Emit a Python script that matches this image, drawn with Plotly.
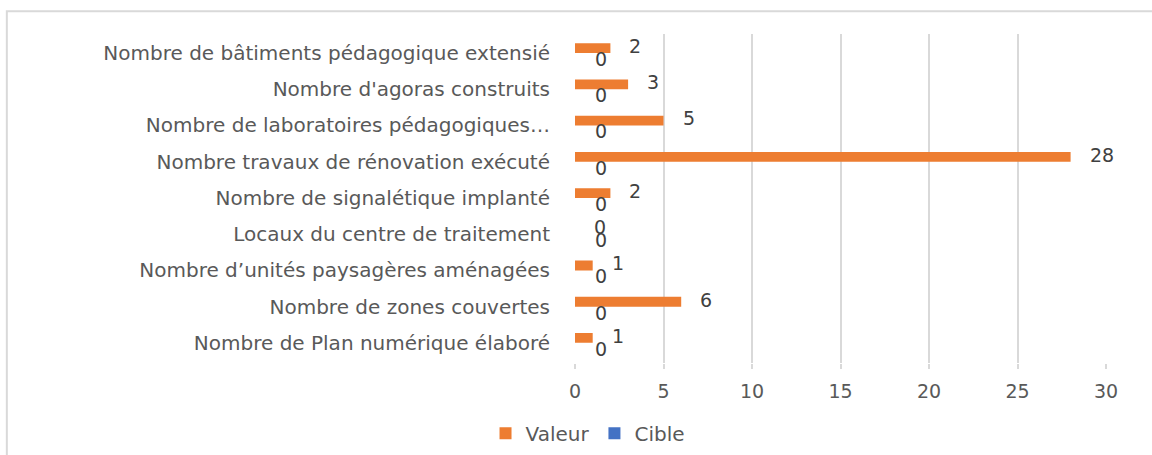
import plotly.graph_objects as go

categories = [
    "Nombre de bâtiments pédagogique extensié",
    "Nombre d'agoras construits",
    "Nombre de laboratoires pédagogiques…",
    "Nombre travaux de rénovation exécuté",
    "Nombre de signalétique implanté",
    "Locaux du centre de traitement",
    "Nombre d’unités paysagères aménagées",
    "Nombre de zones couvertes",
    "Nombre de Plan numérique élaboré",
]
valeur = [2, 3, 5, 28, 2, 0, 1, 6, 1]
cible = [0, 0, 0, 0, 0, 0, 0, 0, 0]
x_ticks = [0, 5, 10, 15, 20, 25, 30]

ORANGE = "#ED7D31"
BLUE = "#4472C4"
FONT = "DejaVu Sans"
GREY = "#595959"

fig = go.Figure()
fig.add_trace(go.Bar(name="Valeur", y=categories, x=valeur, orientation="h",
                     marker=dict(color=ORANGE, line=dict(width=0))))
fig.add_trace(go.Bar(name="Cible", y=categories, x=cible, orientation="h",
                     marker=dict(color=BLUE, line=dict(width=0))))

annotations = []
for c, v in zip(categories, valeur):
    annotations.append(dict(x=v, y=c, xref="x", yref="y", text=str(v), showarrow=False,
                            xanchor="left", yanchor="middle", xshift=17, yshift=7,
                            font=dict(family=FONT, size=19, color="#404040")))
for c, v in zip(categories, cible):
    annotations.append(dict(x=v, y=c, xref="x", yref="y", text=str(v), showarrow=False,
                            xanchor="left", yanchor="middle", xshift=18, yshift=-6,
                            font=dict(family=FONT, size=19, color="#404040")))

fig.update_layout(
    width=1152, height=455,
    margin=dict(l=575, r=46, t=34, b=88),
    paper_bgcolor="white", plot_bgcolor="white",
    barmode="group", bargap=0.46, bargroupgap=0,
    font=dict(family=FONT, size=19, color=GREY),
    showlegend=True,
    legend=dict(orientation="h", xref="container", yref="container",
                x=0.51, y=0.048, xanchor="center", yanchor="middle",
                font=dict(family=FONT, size=20, color=GREY),
                itemsizing="constant", traceorder="normal"),
    annotations=annotations,
    shapes=[dict(type="rect", xref="paper", yref="paper",
                 x0=-1.07, x1=1.3, y0=-0.6, y1=1.069,
                 line=dict(color="#d9d9d9", width=2), fillcolor="rgba(0,0,0,0)",
                 layer="below")],
)
fig.update_xaxes(range=[0, 30], tickvals=x_ticks, showgrid=True, gridcolor="#d9d9d9",
                 gridwidth=2, zeroline=False, showline=False,
                 ticks="outside", ticklen=5, tickcolor="#d9d9d9", tickwidth=2,
                 ticklabelstandoff=6,
                 tickfont=dict(family=FONT, size=19, color=GREY))
fig.update_yaxes(autorange="reversed", showgrid=False, showline=False, ticks="",
                 ticklabelstandoff=24,
                 tickfont=dict(family=FONT, size=20, color=GREY))

fig.write_html("out.html", config={"displayModeBar": False},
               post_script="document.body.style.margin='0';document.body.style.padding='0';")
